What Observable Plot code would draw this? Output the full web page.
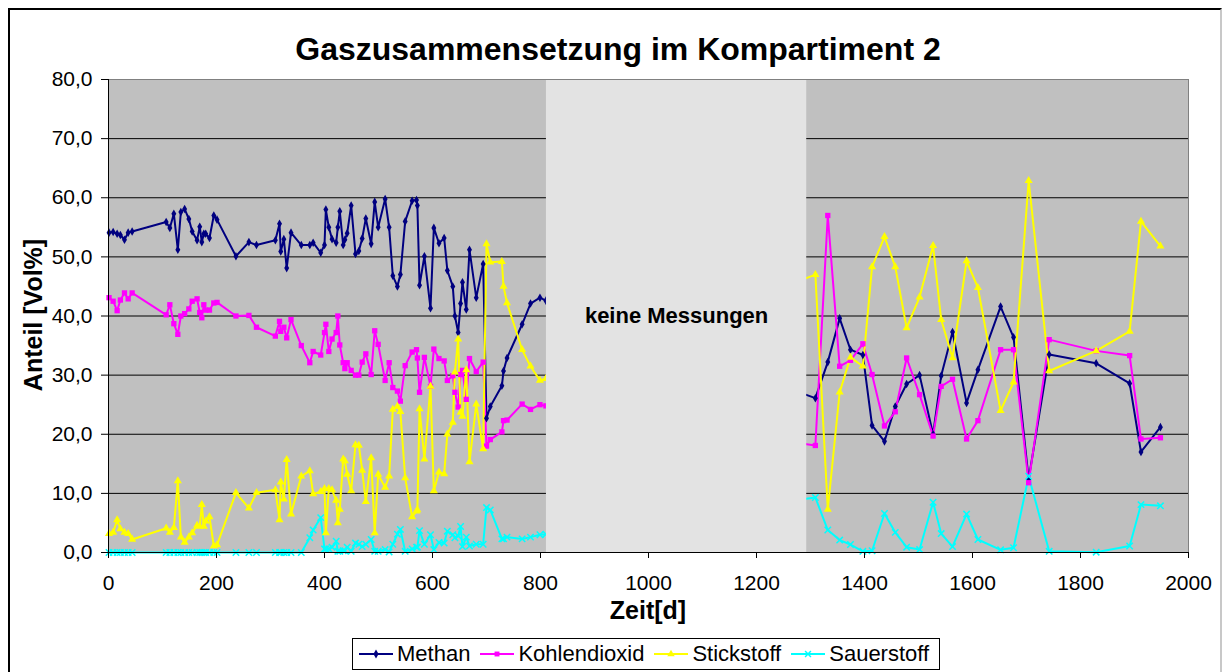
<!DOCTYPE html>
<html><head><meta charset="utf-8">
<script src="https://cdn.jsdelivr.net/npm/d3@7"></script>
<script src="https://cdn.jsdelivr.net/npm/@observablehq/plot@0.6"></script>
<style>
html,body{margin:0;padding:0;background:#fff;overflow:hidden;}
#wrap{position:relative;width:1226px;height:672px;font-family:"Liberation Sans",Arial,sans-serif;color:#000;}
#border{position:absolute;left:8px;top:8px;width:1214px;height:700px;border:2px solid #000;border-right-color:#c8c8c8;box-sizing:border-box;}
#title{position:absolute;left:0;top:33px;width:1236px;text-align:center;font-weight:bold;font-size:32px;line-height:32px;}
#ytitle{position:absolute;left:33px;top:315px;transform:translate(-50%,-50%) rotate(-90deg);font-weight:bold;font-size:25px;white-space:nowrap;line-height:25px;}
#xtitle{position:absolute;left:648px;top:598px;transform:translateX(-50%);font-weight:bold;font-size:25px;line-height:25px;white-space:nowrap;}
#legend{position:absolute;left:352px;top:638px;height:32px;border:1px solid #000;box-sizing:border-box;display:flex;align-items:center;padding:0 10px 0 6px;font-size:22px;background:#fff;}
.item{display:flex;align-items:center;margin-right:10px;}
.item:last-child{margin-right:0;}
.item svg{margin-right:4px;}
#chart{position:absolute;left:0;top:0;}
</style>
</head><body>
<div id="wrap">
  <div id="chart"></div>
  <div id="border"></div>
  <div id="title"></div>
  <div id="ytitle"></div>
  <div id="xtitle"></div>
  <div id="legend"></div>
</div>
<script>
// ---------- data ----------
const titleText = "Gaszusammensetzung im Kompartiment 2";
const xTitle = "Zeit[d]";
const yTitle = "Anteil [Vol%]";
const gapLabel = "keine Messungen";
const seriesNames = ["Methan", "Kohlendioxid", "Stickstoff", "Sauerstoff"];
const seriesColors = ["#000080", "#FF00FF", "#FFFF00", "#00FFFF"];
const seriesSymbols = ["diamond", "square", "triangle", "times"];
const xTicks = [0, 200, 400, 600, 800, 1000, 1200, 1400, 1600, 1800, 2000];
const yTicks = [0, 10, 20, 30, 40, 50, 60, 70, 80];
const gapDays = [811, 1293];
const gapLabelValue = 40;

const days = [1, 8.6, 16, 22, 29.6, 36.4, 43.8, 106.8, 113.6, 121, 128.4, 134, 141, 148.8, 155, 164, 169, 172.8, 176.5, 180,
  187, 195, 201, 236, 260, 274, 309, 316.7, 319, 324.7, 330, 338, 357, 372.8, 379, 393, 400, 402.5, 408, 414,
  421.6, 424.7, 428.3, 434.6, 437.7, 442, 449.4, 457.4, 463.6, 469.8, 476.5, 486.4, 493, 499.4, 512.3, 519.7, 526.5, 535, 540.5, 549.4,
  562.3, 570.4, 572, 576, 585, 596.3, 602.5, 612, 621.6, 627.5, 637.6, 641.5, 647.5, 652, 655.5, 662.5, 668.5, 681, 693.8, 700,
  707, 728.5, 731.5, 738, 766, 781.5, 799, 810,
  1309, 1332, 1354, 1374, 1397, 1414, 1437, 1457, 1478, 1502, 1527, 1542, 1563, 1589, 1610, 1652, 1676, 1704, 1742, 1829,
  1891, 1912, 1948];

const methan = [54.1, 54.2, 53.9, 53.7, 52.9, 54.1, 54.3, 55.9, 54.9, 57.3, 51.2, 57.6, 58.1, 56.4, 54.3, 52.8, 55.1, 52.5, 53.9, 53.9,
  53.2, 57.0, 56.3, 50.1, 52.5, 52.0, 52.8, 55.6, 50.9, 53.0, 48.1, 54.1, 52.0, 52.0, 52.4, 50.7, 52.0, 58.0, 55.0, 53.0,
  52.4, 55.0, 57.7, 52.0, 52.9, 54.0, 58.7, 50.5, 51.0, 53.1, 56.5, 52.2, 59.3, 55.0, 59.8, 55.0, 46.8, 45.0, 47.0, 56.0,
  59.5, 59.6, 58.7, 45.2, 50.1, 41.3, 54.9, 52.3, 53.2, 47.7, 45.0, 40.0, 37.2, 42.1, 45.7, 41.1, 51.2, 43.1, 48.8, 22.7,
  24.7, 28.2, 30.7, 32.9, 38.6, 42.1, 43.1, 42.6,
  26.1, 32.2, 39.6, 34.3, 33.4, 21.5, 18.8, 24.7, 28.5, 30.0, 20.0, 29.9, 37.3, 25.3, 30.9, 41.6, 36.4, 12.4, 33.5, 32.0,
  28.6, 17.0, 21.2];

const kohlendioxid = [43.1, 42.5, 40.9, 42.7, 43.9, 42.9, 43.9, 40.2, 41.9, 38.7, 36.9, 40.0, 40.4, 41.2, 42.5, 42.9, 40.6, 39.7, 41.9, 41.0,
  41.0, 42.2, 42.3, 40.0, 40.1, 38.1, 36.6, 39.1, 37.4, 38.1, 36.3, 39.4, 35.0, 32.1, 34.0, 33.4, 37.2, 38.6, 34.0, 36.1,
  37.2, 40.0, 35.1, 32.1, 31.1, 32.1, 30.8, 30.0, 30.0, 32.2, 33.6, 30.1, 37.5, 35.2, 29.1, 32.1, 27.9, 27.3, 25.6, 31.6,
  33.9, 34.3, 32.9, 27.1, 33.0, 28.1, 34.4, 32.8, 32.4, 29.1, 29.9, 27.1, 24.6, 30.1, 30.8, 25.9, 32.8, 30.6, 32.2, 18.0,
  19.1, 20.4, 22.3, 22.4, 25.1, 24.2, 25.0, 24.8,
  18.1, 57.0, 31.5, 32.5, 35.3, 30.1, 21.4, 23.8, 32.9, 26.7, 19.7, 28.1, 29.3, 19.2, 22.3, 34.3, 34.3, 11.8, 36.0, 34.1,
  33.3, 19.2, 19.4];

const stickstoff = [3.2, 3.4, 5.5, 4.0, 3.4, 3.2, 2.2, 4.1, 3.4, 4.2, 12.1, 2.6, 1.7, 2.6, 3.3, 4.6, 4.4, 8.1, 4.4, 5.3,
  6.0, 1.1, 1.3, 10.1, 7.5, 10.1, 10.6, 5.5, 11.9, 9.0, 15.7, 6.5, 12.9, 13.8, 9.9, 10.3, 10.8, 3.3, 10.8, 10.6,
  8.8, 5.0, 7.3, 15.8, 15.5, 13.2, 10.4, 18.2, 18.1, 13.9, 8.6, 16.0, 3.3, 13.2, 11.0, 12.9, 24.2, 24.7, 23.8, 12.6,
  6.0, 7.0, 7.2, 24.3, 15.8, 28.1, 10.4, 13.6, 13.3, 20.0, 22.0, 30.5, 36.1, 23.7, 23.0, 30.9, 15.3, 25.1, 17.5, 52.2,
  49.1, 49.2, 45.0, 42.2, 34.3, 31.5, 29.1, 29.4,
  47.0, 7.3, 27.1, 33.0, 31.5, 48.3, 53.4, 48.3, 38.0, 43.2, 51.9, 39.4, 32.9, 49.3, 44.8, 24.0, 28.8, 62.9, 30.7, 34.1,
  37.4, 56.0, 51.8];

const sauerstoff = [0, 0, 0, 0, 0, 0, 0, 0, 0, 0, 0, 0, 0, 0, 0, 0, 0, 0, 0, 0,
  0, 0, 0, 0, 0, 0, 0, 0, 0, 0, 0, 0, 0, 2.5, 3.8, 5.9, 0.6, 0.6, 0.6, 0.9,
  1.9, 0.2, 0.2, 0.3, 0.3, 0.9, 0.2, 1.6, 1.4, 1.0, 1.4, 2.2, 0.2, 0.2, 0.5, 0.1, 1.4, 3.1, 3.9, 0.2,
  0.6, 0.9, 0.9, 3.7, 1.4, 3.0, 0.5, 1.7, 1.6, 3.6, 3.0, 2.5, 2.8, 4.4, 1.0, 2.6, 1.1, 1.4, 1.4, 7.6,
  7.2, 2.3, 2.3, 2.6, 2.3, 2.6, 3.0, 3.1,
  9.3, 3.8, 2.1, 1.35, 0.2, 0.3, 6.6, 3.4, 0.9, 0.5, 8.5, 3.2, 1.0, 6.5, 2.2, 0.45, 0.8, 12.9, 0.2, 0.05,
  1.1, 8.1, 7.9];

// ---------- build ----------
const seriesValues = [methan, kohlendioxid, stickstoff, sauerstoff];
const data = seriesNames.flatMap((name, s) => days.map((d, i) => ({day: d, value: seriesValues[s][i], series: name})));
const fmt = v => v.toFixed(1).replace(".", ",");

const dotMarks = seriesNames.map((name, s) => {
  const sub = data.filter(d => d.series === name);
  const sym = seriesSymbols[s];
  if (sym === "times") {
    return Plot.dot(sub, {x: "day", y: "value", symbol: () => sym, r: 3, stroke: seriesColors[s], strokeWidth: 1.5, fill: "none"});
  }
  return Plot.dot(sub, {x: "day", y: "value", symbol: () => sym, r: sym === "diamond" ? 2.6 : 3, fill: seriesColors[s], stroke: "none"});
});

const chart = Plot.plot({
  width: 1226,
  height: 672,
  marginLeft: 108,
  marginRight: 38,
  marginTop: 79,
  marginBottom: 120,
  style: {fontFamily: "'Liberation Sans', Arial, sans-serif", fontSize: "21px", background: "transparent", color: "#000"},
  x: {domain: [0, 2000]},
  y: {domain: [0, 80]},
  symbol: {type: "identity"},
  marks: [
    Plot.frame({fill: "#C0C0C0", stroke: "none"}),
    Plot.gridY(yTicks, {stroke: "#000", strokeOpacity: 1, strokeWidth: 1}),
    ...seriesNames.map((name, s) => Plot.line(data.filter(d => d.series === name), {x: "day", y: "value", stroke: seriesColors[s], strokeWidth: 2})),
    ...dotMarks,
    Plot.rect([gapDays], {x1: d => d[0], x2: d => d[1], fill: "#E3E3E3"}),
    Plot.text([gapLabel], {x: () => (gapDays[0] + gapDays[1]) / 2, y: () => gapLabelValue, text: d => d, fontWeight: "bold", fontSize: 22}),
    Plot.frame({stroke: "#808080", strokeWidth: 1}),
    Plot.ruleX([0], {stroke: "#000"}),
    Plot.ruleY([0], {stroke: "#000"}),
    Plot.axisY({ticks: yTicks, tickFormat: fmt, tickSize: 7, tickPadding: 9, label: null, fontSize: 21}),
    Plot.axisX({ticks: xTicks, tickFormat: d => String(d), tickSize: 6, tickPadding: 17, label: null, fontSize: 21})
  ]
});
document.getElementById("chart").appendChild(chart);

document.getElementById("title").textContent = titleText;
document.getElementById("ytitle").textContent = yTitle;
document.getElementById("xtitle").textContent = xTitle;

// legend
const leg = document.getElementById("legend");
seriesNames.forEach((name, s) => {
  const item = document.createElement("div");
  item.className = "item";
  const svg = d3.create("svg").attr("width", 34).attr("height", 12);
  svg.append("line").attr("x1", 0).attr("x2", 34).attr("y1", 6).attr("y2", 6).attr("stroke", seriesColors[s]).attr("stroke-width", 2);
  const symMap = {diamond: d3.symbolDiamond, square: d3.symbolSquare, triangle: d3.symbolTriangle, times: d3.symbolTimes};
  const sym = seriesSymbols[s];
  const p = svg.append("path").attr("transform", "translate(17,6)").attr("d", d3.symbol(symMap[sym], 24)());
  if (sym === "times") p.attr("fill", "none").attr("stroke", seriesColors[s]).attr("stroke-width", 1.5);
  else p.attr("fill", seriesColors[s]);
  item.appendChild(svg.node());
  const t = document.createElement("span");
  t.textContent = name;
  item.appendChild(t);
  leg.appendChild(item);
});
</script>
</body></html>
